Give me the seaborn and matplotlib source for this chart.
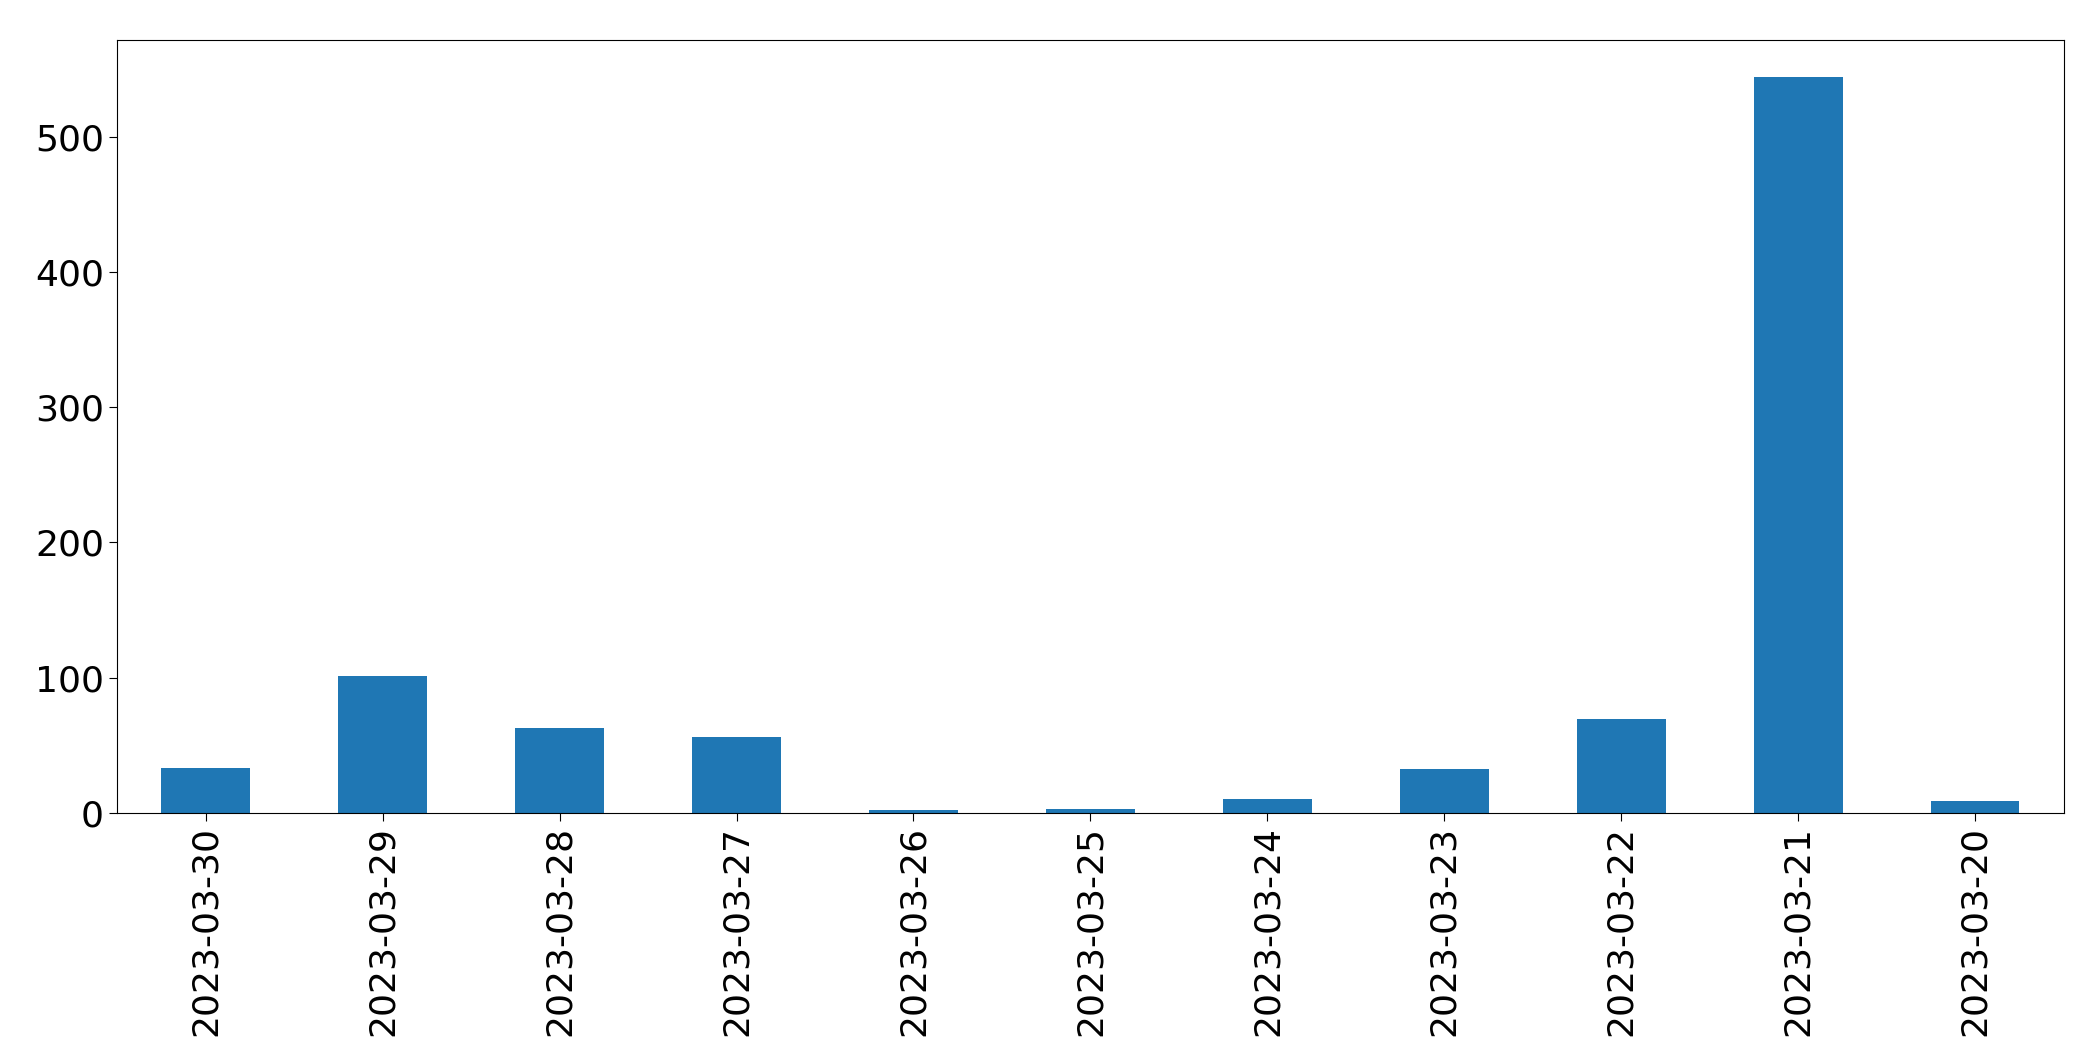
import matplotlib
matplotlib.use("Agg")
import matplotlib.pyplot as plt
import seaborn as sns
import pandas as pd

dates = ["2023-03-30","2023-03-29","2023-03-28","2023-03-27","2023-03-26","2023-03-25",
         "2023-03-24","2023-03-23","2023-03-22","2023-03-21","2023-03-20"]
counts = [33, 101, 63, 56, 2, 3, 10, 32, 69, 544, 9]

df = pd.DataFrame({"date": dates, "count": counts})
fig = plt.figure(figsize=(20.93, 10.61), dpi=100)
ax = fig.add_axes([0.056, 0.234, 0.93, 0.728])
sns.barplot(data=df, x="date", y="count", order=dates, color="#1f77b4", saturation=1, width=0.5, ax=ax)
ax.set_xlabel("")
ax.set_ylabel("")
ax.tick_params(axis="both", labelsize=26, length=6)
plt.setp(ax.get_xticklabels(), rotation=90)
ax.set_xlim(-0.5, len(dates) - 0.5)
fig.savefig("out.png", dpi=100)
